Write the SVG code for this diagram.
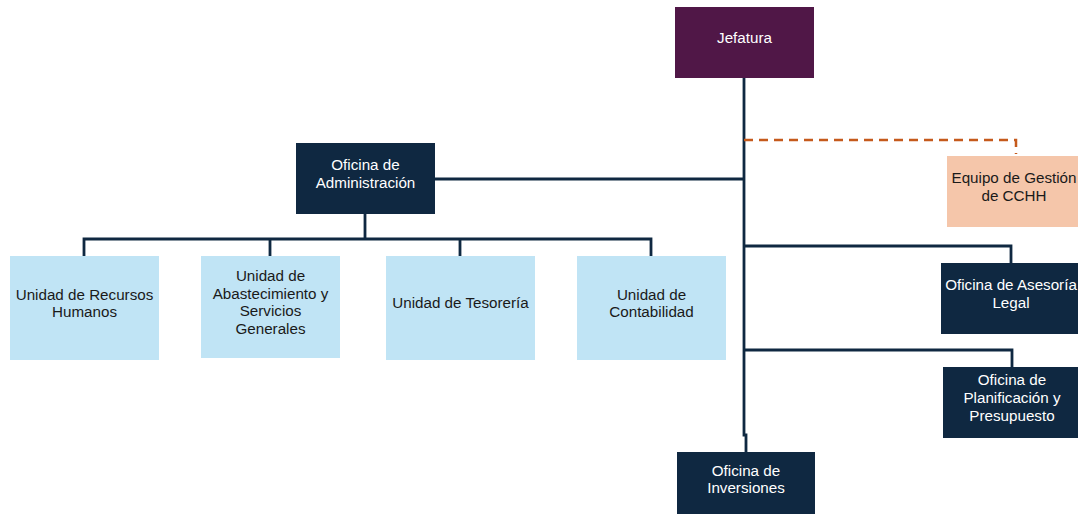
<svg xmlns="http://www.w3.org/2000/svg" width="1078" height="514" viewBox="0 0 1078 514">
<style>
.dark{fill:#0F2841}
.light{fill:#C0E4F5}
.top{fill:#501747}
.peach{fill:#F5C6AA}
text{font-family:"Liberation Sans",Arial,sans-serif;font-size:15.2px;text-anchor:middle}
.w{fill:#FFFFFF}
.k{fill:#1A1A1A}
.ln{stroke:#0F2841;stroke-width:2.8;fill:none}
.dash{stroke:#C55A1C;stroke-width:2.5;fill:none;stroke-dasharray:9 6}
</style>
<rect width="1078" height="514" fill="#FFFFFF"/>
<g id="connectors">
<polyline class="ln" points="744,78 744,435 746,435 746,452"/>
<line class="ln" x1="435" y1="179" x2="744" y2="179"/>
<polyline class="dash" points="744,140 1016,140 1016,154"/>
<polyline class="ln" points="744,246 1011,246 1011,263"/>
<polyline class="ln" points="744,350 1012,350 1012,367"/>
<line class="ln" x1="365" y1="214" x2="365" y2="239"/>
<polyline class="ln" points="84,256 84,239 651,239 651,256"/>
<line class="ln" x1="270" y1="239" x2="270" y2="256"/>
<line class="ln" x1="460" y1="239" x2="460" y2="256"/>
</g>
<g id="jefatura"><rect class="top" x="675" y="7" width="139" height="71"/><text class="w" x="744.5" y="43">Jefatura</text></g>
<g id="equipo"><rect class="peach" x="947" y="156" width="131" height="71"/><text class="k" x="1014" y="183">Equipo de Gestión</text><text class="k" x="1014" y="201">de CCHH</text></g>
<g id="administracion"><rect class="dark" x="296" y="143" width="139" height="71"/><text class="w" x="365.5" y="170">Oficina de</text><text class="w" x="365.5" y="188">Administración</text></g>
<g id="rrhh"><rect class="light" x="10" y="256" width="149" height="104"/><text class="k" x="84.5" y="300">Unidad de Recursos</text><text class="k" x="84.5" y="317">Humanos</text></g>
<g id="abastecimiento"><rect class="light" x="201" y="256" width="139" height="102"/><text class="k" x="270.5" y="281">Unidad de</text><text class="k" x="270.5" y="299">Abastecimiento y</text><text class="k" x="270.5" y="316">Servicios</text><text class="k" x="270.5" y="334">Generales</text></g>
<g id="tesoreria"><rect class="light" x="386" y="256" width="149" height="104"/><text class="k" x="460.5" y="308">Unidad de Tesorería</text></g>
<g id="contabilidad"><rect class="light" x="577" y="256" width="149" height="104"/><text class="k" x="651.5" y="300">Unidad de</text><text class="k" x="651.5" y="317">Contabilidad</text></g>
<g id="asesoria"><rect class="dark" x="941" y="263" width="137" height="71"/><text class="w" x="1011" y="290">Oficina de Asesoría</text><text class="w" x="1011" y="308">Legal</text></g>
<g id="planificacion"><rect class="dark" x="943" y="367" width="135" height="71"/><text class="w" x="1012" y="385">Oficina de</text><text class="w" x="1012" y="403">Planificación y</text><text class="w" x="1012" y="421">Presupuesto</text></g>
<g id="inversiones"><rect class="dark" x="677" y="452" width="138" height="62"/><text class="w" x="746" y="476">Oficina de</text><text class="w" x="746" y="493">Inversiones</text></g>
</svg>
